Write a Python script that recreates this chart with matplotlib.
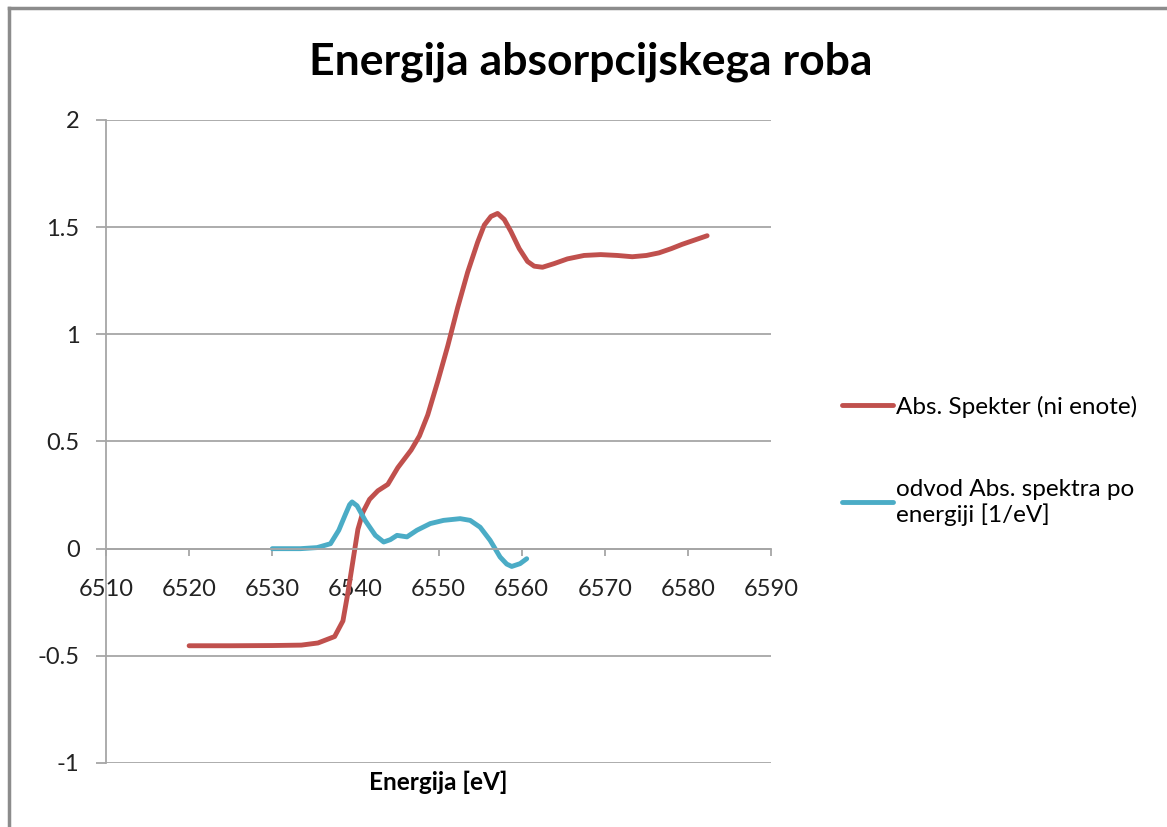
import matplotlib.pyplot as plt
from matplotlib.lines import Line2D

plt.rcParams['font.family'] = ['Lato', 'DejaVu Sans']

# Absorpcijski spekter (odčitano s slike)
energija_abs = [6520, 6525, 6530, 6533.5, 6535.5, 6537.5, 6538.5, 6539.1, 6539.5, 6539.9,
                6540.3, 6540.9, 6541.7, 6542.7, 6543.9, 6545.1, 6546.7, 6547.7, 6548.7,
                6549.9, 6551.1, 6552.3, 6553.5, 6554.7, 6555.5, 6556.3, 6557.1, 6557.9,
                6558.7, 6559.7, 6560.7, 6561.5, 6562.5, 6563.9, 6565.5, 6567.5, 6569.5,
                6571.5, 6573.3, 6575.0, 6576.5, 6578.0, 6579.3, 6582.3]
spekter_abs = [-0.453, -0.453, -0.452, -0.45, -0.44, -0.41, -0.337, -0.205, -0.107, -0.008,
               0.09, 0.17, 0.23, 0.27, 0.30, 0.378, 0.46, 0.526, 0.624,
               0.78, 0.945, 1.125, 1.29, 1.43, 1.51, 1.55, 1.564, 1.536,
               1.48, 1.40, 1.34, 1.318, 1.313, 1.33, 1.352, 1.368, 1.372,
               1.368, 1.362, 1.368, 1.38, 1.40, 1.42, 1.46]

# Odvod spektra po energiji
energija_odv = [6530, 6533.4, 6535.4, 6537, 6538, 6538.8, 6539.3, 6539.6, 6540.2, 6541.2,
                6542.4, 6543.4, 6544.2, 6545, 6546.2, 6547.4, 6549, 6550.6, 6552.6,
                6553.8, 6555, 6556.2, 6557.4, 6558.2, 6558.8, 6559.8, 6560.6]
odvod = [0.0, 0.0, 0.005, 0.023, 0.086, 0.16, 0.205, 0.218, 0.20, 0.13,
         0.062, 0.031, 0.042, 0.062, 0.055, 0.086, 0.117, 0.132, 0.14,
         0.132, 0.10, 0.039, -0.039, -0.072, -0.083, -0.07, -0.047]

fig = plt.figure(figsize=(11.67, 8.27), dpi=100)
ax = fig.add_axes([0.0908, 0.0774, 0.570, 0.7775])

ax.plot(energija_abs, spekter_abs, color='#C0504D', linewidth=3.5,
        solid_capstyle='round', solid_joinstyle='round', label='Abs. Spekter (ni enote)')
ax.plot(energija_odv, odvod, color='#4BACC6', linewidth=3.5,
        solid_capstyle='round', solid_joinstyle='round',
        label='odvod Abs. spektra po\nenergiji [1/eV]')

ax.set_xlim(6510, 6590)
ax.set_ylim(-1, 2)
ax.set_xticks(range(6510, 6591, 10))
ax.set_yticks([-1, -0.5, 0, 0.5, 1, 1.5, 2])
ax.set_yticklabels(['-1', '-0.5', '0', '0.5', '1', '1.5', '2'])

ax.grid(axis='y', color='#A6A6A6', linewidth=1.3)
ax.set_axisbelow(True)
for s in ['top', 'right']:
    ax.spines[s].set_visible(False)
ax.spines['bottom'].set_position(('data', 0))
ax.spines['bottom'].set_color('#A6A6A6')
ax.spines['left'].set_color('#A6A6A6')
ax.spines['bottom'].set_linewidth(1.3)
ax.spines['left'].set_linewidth(1.3)

ax.tick_params(axis='x', direction='out', length=5, width=1.3, color='#A6A6A6',
               labelsize=17, pad=17, labelcolor='#222222')
ax.tick_params(axis='y', direction='out', length=7, width=1.3, color='#A6A6A6',
               labelsize=17, pad=12, labelcolor='#222222')

ax.set_xlabel('Energija [eV]', fontsize=17.5, fontweight='bold')
ax.xaxis.set_label_coords(0.5, -0.012)

fig.suptitle('Energija absorpcijskega roba', fontsize=32, fontweight='bold',
             x=0.506, y=0.925, va='center')

ax.legend(loc='upper left', bbox_to_anchor=(1.073, 0.605), frameon=False,
          fontsize=17.5, handlelength=2.1, handletextpad=0.15, labelspacing=2.5)

# okvir grafa
fig.add_artist(Line2D([9 / 1167, 1], [1 - 8 / 827, 1 - 8 / 827], color='#8C8C8C',
                      linewidth=2.5, transform=fig.transFigure))
fig.add_artist(Line2D([9 / 1167, 9 / 1167], [0, 1 - 8 / 827], color='#8C8C8C',
                      linewidth=2.5, transform=fig.transFigure))

fig.savefig('out.png', dpi=100)
